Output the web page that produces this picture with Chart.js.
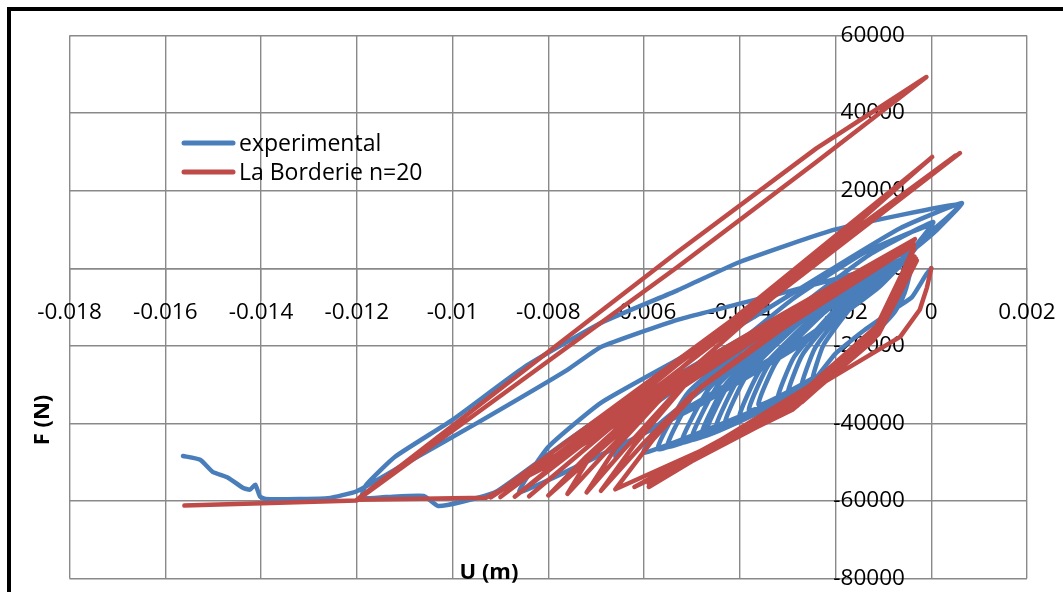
<!DOCTYPE html>
<html>
<head>
<meta charset="utf-8">
<script src="https://cdn.jsdelivr.net/npm/chart.js@4.4.1/dist/chart.umd.min.js"></script>
<style>
  html, body { margin: 0; padding: 0; background: #fff; }
  canvas { display: block; }
</style>
</head>
<body>
<canvas id="myChart" width="1063" height="592"></canvas>
<script>
const xTicks = [-0.018, -0.016, -0.014, -0.012, -0.01, -0.008, -0.006, -0.004, -0.002, 0, 0.002];
const yTicks = [-80000, -60000, -40000, -20000, 0, 20000, 40000, 60000];

// experimental curve (U in m, F in N)
const expU = [
  0, -0.0001, -0.0004, -0.0007, -0.0014, -0.002, -0.0025,
  -0.00225, -0.00156, -0.0004, -0.00058, -0.00137, -0.0027,
  -0.00242, -0.00167, -0.0004, -0.00061, -0.00149, -0.003,
  -0.00269, -0.00183, -0.0004, -0.00062, -0.00158, -0.0032,
  -0.00286, -0.00194, -0.0004, -0.00066, -0.00174, -0.0036,
  -0.00322, -0.00216, -0.0004, -0.00067, -0.00183, -0.0038,
  -0.00339, -0.00227, -0.0004, -0.00069, -0.00191, -0.004,
  -0.00357, -0.00238, -0.0004, -0.00071, -0.00204, -0.0043,
  -0.00383, -0.00255, -0.0004, -0.00073, -0.00212, -0.0045,
  -0.00401, -0.00266, -0.0004, -0.00074, -0.00221, -0.0047,
  -0.00418, -0.00277, -0.0004, -0.00075, -0.00225, -0.0048,
  -0.00427, -0.00282, -0.0004, -0.00077, -0.00233, -0.005,
  -0.00445, -0.00293, -0.0004, -0.00078, -0.00242, -0.0052,
  -0.00462, -0.00304, -0.0004, -0.00081, -0.00254, -0.0055,
  -0.00489, -0.00321, -0.0004, -0.00082, -0.00263, -0.0057,
  -0.00506, -0.00332, -0.0004, -0.00085, -0.00275, -0.006,
  -0.0057, -0.0044, -0.0027, -0.0013, 0.00004,
  -0.0004, -0.0011, -0.0027, -0.0048, -0.0062, -0.0066,
  -0.0061, -0.0046, -0.0029, -0.0014, 0.00002,
  -0.0004, -0.0011, -0.0027, -0.0048, -0.0069, -0.0086,
  -0.008, -0.0069, -0.0053, -0.0038, -0.0021, -0.00065, 0.00064,
  0.00012, -0.0004, -0.0011, -0.0025, -0.0038, -0.0053, -0.0069, -0.008, -0.0091,
  -0.0098, -0.0103, -0.0106, -0.0114, -0.0119,
  -0.0118, -0.0112, -0.01, -0.0085, -0.0069, -0.0053, -0.004, -0.002, 0.0006,
  0.0001, -0.0004, -0.0015, -0.003, -0.0053, -0.0069, -0.0076, -0.0095, -0.011, -0.012,
  -0.0126, -0.0132, -0.0139, -0.01402, -0.01412, -0.01423, -0.01438, -0.01469, -0.01501, -0.01527, -0.01563
];
const expF = [
  0, -1500, -7400, -10000, -16000, -22000, -29500,
  -19800, -8400, 2900, -7100, -19800, -30500,
  -20400, -8700, 3100, -7700, -21400, -33000,
  -22300, -9800, 2700, -8250, -22100, -33800,
  -22800, -9900, 3000, -8500, -23000, -35300,
  -23900, -10700, 2600, -9200, -24200, -36800,
  -24800, -10800, 3200, -9300, -25200, -38600,
  -26200, -11700, 2800, -10100, -26400, -40200,
  -27200, -12100, 3000, -10400, -27400, -41700,
  -28300, -12700, 2900, -10800, -28200, -42800,
  -29000, -13000, 3100, -10900, -28600, -43500,
  -29600, -13500, 2700, -11400, -29300, -44300,
  -30100, -13600, 3000, -11400, -29600, -45000,
  -30700, -13900, 2800, -11900, -30500, -46100,
  -31300, -14100, 3200, -11800, -30700, -46700,
  -31800, -14500, 2900, -12300, -31400, -47600,
  -40400, -27500, -9500, 3400, 11900,
  4700, -4300, -18500, -33900, -44000, -48500,
  -38000, -25000, -8000, 4000, 11200,
  4000, -5000, -19500, -35000, -48100, -57700,
  -46100, -34700, -23600, -13300, -400, 10300, 16800,
  9900, 4500, -2000, -9000, -17000, -27500, -38500, -48000, -57700,
  -60200, -61300, -58700, -59000, -59200,
  -55800, -48600, -39100, -25500, -14100, -5700, 1600, 10000, 16500,
  10500, 5000, -1000, -6000, -13300, -20300, -26200, -40000, -50500, -57500,
  -59300, -59500, -59500, -58900, -55800, -57100, -56600, -54000, -52500, -49400, -48400
];

// La Borderie model, n=20
const modelU = [
  0, -0.00009, -0.00024, -0.00065, -0.00205, -0.0038, -0.0059,
  -0.0027, -0.0011, -0.00035, -0.0011, -0.0026, -0.0052,
  -0.0025, -0.001, -0.0003, -0.0011, -0.0027, -0.0056,
  -0.0026, -0.001, -0.0004, -0.0012, -0.0028, -0.0059,
  -0.0027, -0.0011, -0.00032, -0.0012, -0.0029, -0.0062,
  -0.0028, -0.0011, -0.00036, -0.0013, -0.003, -0.0066,
  -0.0058, -0.0048, -0.003, -0.00036, -0.0031, -0.005, -0.006, -0.0069,
  -0.0062, -0.0051, -0.0031, -0.00038, -0.0032, -0.0053, -0.0064, -0.0072,
  -0.0066, -0.0053, -0.0031, -0.00036, -0.0032, -0.0055, -0.0068, -0.0076,
  -0.0071, -0.0054, -0.0031, -0.00034, -0.0033, -0.0056, -0.0072, -0.008,
  0.00002, -0.0084, -0.00002, -0.0087, 0.0006, -0.009, 0.0005, -0.0092,
  -0.008, -0.0052, -0.0031, -0.0004, -0.0032, -0.0053, -0.0081, -0.0093,
  -0.012, -0.0053, -0.0024, -0.0001, -0.0024, -0.0053, -0.012, -0.0156
];
const modelF = [
  0, -5000, -10700, -17700, -28000, -40900, -56400,
  -32000, -14500, 3000, -16500, -33000, -50300,
  -30000, -13500, 2000, -17000, -34500, -53500,
  -31000, -14000, 4500, -18000, -35500, -55600,
  -32500, -15000, 2500, -18500, -36500, -56400,
  -33500, -15500, 5000, -19000, -37000, -57000,
  -44000, -30500, -13500, 6000, -15500, -32500, -45000, -57400,
  -45500, -29500, -12500, 6800, -14500, -31500, -46500, -57800,
  -46500, -29000, -12000, 7200, -14000, -31000, -47500, -58200,
  -48000, -28500, -11800, 7500, -13500, -30500, -48500, -58600,
  28700, -58800, 28200, -58900, 29700, -59000, 29000, -59100,
  -49400, -28800, -12500, 7000, -14500, -30800, -51500, -59200,
  -59700, 4200, 30900, 49300, 27400, 300, -59900, -61200
];

function toPoints(us, fs) {
  return us.map((u, i) => ({ x: u, y: fs[i] }));
}

const FONT = '"Open Sans", "Noto Sans", sans-serif';

// frame, legend inside the plot and the two axis titles
const decorations = {
  id: 'decorations',
  afterDraw(chart) {
    const ctx = chart.ctx;
    ctx.save();
    ctx.fillStyle = '#000';
    ctx.fillRect(7, 7, 4, 592);
    ctx.fillRect(7, 7, 1063, 4);

    ctx.lineCap = 'round';
    ctx.lineWidth = 5;
    ctx.font = '23px ' + FONT;
    ctx.textBaseline = 'alphabetic';
    ctx.textAlign = 'left';
    chart.data.datasets.forEach((ds, i) => {
      const y = 143 + i * 29;
      ctx.strokeStyle = ds.borderColor;
      ctx.beginPath();
      ctx.moveTo(184, y);
      ctx.lineTo(233, y);
      ctx.stroke();
      ctx.fillStyle = '#000';
      ctx.fillText(ds.label, 239, y + 8);
    });

    ctx.font = 'bold 22px ' + FONT;
    ctx.textAlign = 'center';
    ctx.textBaseline = 'middle';
    ctx.fillText('U (m)', 489, 573);
    ctx.translate(43, 420);
    ctx.rotate(-Math.PI / 2);
    ctx.fillText('F (N)', 0, 0);
    ctx.restore();
  }
};

const data = {
  datasets: [
    {
      label: 'experimental',
      data: toPoints(expU, expF),
      borderColor: '#4a7ebb',
      order: 2,
      tension: 0.15
    },
    {
      label: 'La Borderie n=20',
      data: toPoints(modelU, modelF),
      borderColor: '#be4b48',
      order: 1,
      tension: 0
    }
  ]
};
data.datasets.forEach(ds => {
  ds.showLine = true;
  ds.pointRadius = 0;
  ds.borderWidth = 4.5;
  ds.borderCapStyle = 'round';
  ds.borderJoinStyle = 'round';
  ds.fill = false;
});

const GRID = '#898989';

const config = {
  type: 'scatter',
  data: data,
  options: {
    responsive: false,
    animation: false,
    layout: { padding: { left: 69.5, right: 36, top: 35.5, bottom: 13 } },
    plugins: {
      legend: { display: false },
      tooltip: { enabled: false }
    },
    scales: {
      x: {
        type: 'linear',
        min: -0.018,
        max: 0.002,
        position: { y: 0 },
        afterBuildTicks: axis => { axis.ticks = xTicks.map(v => ({ value: v })); },
        ticks: {
          padding: 0,
          color: '#000',
          font: { family: FONT, size: 22.5 },
          maxRotation: 0,
          autoSkip: false,
          callback: v => String(Number(v.toFixed(3)))
        },
        grid: { color: GRID, lineWidth: 1.4, tickLength: 31, tickColor: GRID },
        border: { color: GRID, width: 1.4 }
      },
      y: {
        type: 'linear',
        min: -80000,
        max: 60000,
        // labels sit a little left of the U = 0 line
        position: { x: -0.00055 },
        afterBuildTicks: axis => { axis.ticks = yTicks.map(v => ({ value: v })); },
        ticks: {
          padding: 0,
          color: '#000',
          font: { family: FONT, size: 22.5 },
          autoSkip: false,
          callback: v => String(v)
        },
        grid: { color: GRID, lineWidth: 1.4, drawTicks: false },
        border: { display: false }
      }
    }
  },
  plugins: [decorations]
};

const ctx = document.getElementById('myChart').getContext('2d');
new Chart(ctx, config);
</script>
</body>
</html>
